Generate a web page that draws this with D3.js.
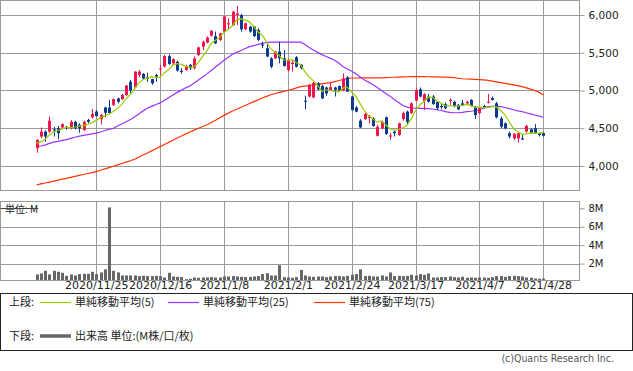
<!DOCTYPE html>
<html>
<head>
<meta charset="utf-8">
<script src="https://cdn.jsdelivr.net/npm/d3@7"></script>
<style>
  body { margin: 0; background: #fff; }
  svg { display: block; font-family: "DejaVu Sans", sans-serif; }
  .jp { font-family: "Noto Sans CJK JP", sans-serif; }
</style>
</head>
<body>
<div id="chart"></div>
<script>
// daily prices (yen), 2020/11/4 .. 2021/4/28
const opens = [4235,4390,4455,4455,4485,4500,4510,4520,4500,4585,4545,4475,4610,4645,4720,4620,4775,4775,4810,4895,
  4885,4940,5115,5040,5205,5220,5175,5150,5205,5280,5315,5455,5360,5380,5260,5270,5340,5295,5470,5580,
  5635,5725,5720,5670,5780,5875,5865,6000,6000,5810,5845,5845,5800,5610,5560,5425,5425,5515,5425,5270,
  5350,5440,5340,4865,4920,4910,5095,5060,5040,5000,5040,5060,5000,5175,4920,4775,4600,4620,4635,4630,
  4400,4500,4645,4390,4455,4410,4620,4720,4700,4865,5015,4860,4920,4920,4850,4795,4820,4860,4850,4810,
  4830,4830,4875,4785,4700,4795,4835,4900,4830,4630,4565,4435,4365,4365,4365,4455,4485,4500,4435,4435];
const highs = [4355,4510,4470,4655,4520,4530,4565,4530,4610,4600,4565,4600,4625,4755,4740,4690,4785,4875,4895,4905,
  4955,5075,5140,5255,5270,5230,5235,5155,5220,5340,5470,5480,5425,5395,5295,5340,5350,5450,5580,5660,
  5715,5800,5780,5765,5985,5955,6055,6120,6015,5900,5855,5855,5825,5645,5635,5440,5525,5645,5535,5415,
  5405,5455,5350,4930,5085,5115,5110,5070,5050,5115,5050,5065,5225,5190,4930,4795,4620,4705,4675,4645,
  4545,4600,4655,4440,4470,4575,4720,4735,4840,5030,5040,4965,4955,4940,4860,4820,4840,4895,4865,4820,
  4875,4865,4885,4795,4775,4810,4955,4920,4850,4655,4575,4455,4435,4440,4410,4545,4500,4555,4440,4445];
const lows = [4175,4370,4320,4440,4390,4355,4500,4480,4485,4485,4440,4465,4565,4630,4655,4550,4645,4690,4795,4830,
  4875,4930,4960,5030,5175,5150,5115,5075,5115,5205,5305,5340,5350,5250,5220,5265,5270,5280,5455,5535,
  5625,5715,5615,5655,5765,5810,5855,5865,5780,5800,5765,5710,5655,5560,5440,5295,5415,5360,5315,5250,
  5250,5305,5280,4750,4910,4895,5005,4885,4930,4990,4920,4990,4990,4980,4735,4710,4500,4610,4565,4520,
  4390,4485,4410,4345,4390,4400,4600,4555,4690,4855,4910,4740,4840,4810,4740,4750,4750,4810,4775,4740,
  4795,4820,4785,4620,4690,4765,4830,4865,4630,4500,4485,4365,4345,4310,4345,4440,4435,4425,4390,4390];
const closes = [4345,4455,4390,4600,4470,4435,4555,4505,4585,4500,4500,4585,4585,4690,4660,4675,4705,4700,4885,4850,
  4940,5065,5005,5250,5250,5160,5155,5095,5185,5290,5455,5350,5415,5265,5245,5325,5295,5425,5570,5645,
  5700,5790,5625,5755,5980,5890,6045,6020,5810,5890,5780,5720,5670,5595,5450,5315,5515,5425,5325,5405,
  5370,5315,5295,4850,5075,5100,5015,4895,4960,5045,5010,5000,5160,4985,4740,4720,4510,4690,4655,4530,
  4520,4585,4425,4405,4435,4565,4700,4585,4830,5005,4920,4950,4850,4820,4765,4780,4765,4875,4795,4750,
  4810,4850,4795,4675,4765,4780,4850,4875,4645,4520,4500,4390,4425,4435,4350,4530,4440,4435,4410,4400];
// closes of the 4 sessions before the first one (for the 5-day average)
const preCloses = [4345, 4235, 4310, 4265];

// volume, millions of shares
const volumes = [0.82,0.93,1.22,0.82,1.22,1.11,1.0,0.67,0.82,0.71,0.86,0.89,0.89,1.11,0.86,1.04,1.37,8.1,1.22,1.04,
  0.71,0.71,0.71,0.71,0.64,0.67,0.64,0.64,0.67,0.64,0.49,1.0,0.6,0.56,0.53,0.31,0.35,0.49,0.46,0.49,
  0.49,0.53,0.49,0.49,0.6,0.6,0.64,0.6,0.56,0.53,0.56,0.6,0.64,0.86,0.96,0.71,0.71,1.82,0.53,0.49,
  0.46,0.53,1.3,0.71,0.6,0.56,0.6,0.6,0.53,0.6,0.64,0.64,0.6,0.67,0.78,0.86,1.37,0.64,0.67,0.6,
  0.6,0.71,0.6,1.04,0.64,0.67,0.64,0.67,0.78,0.71,0.86,0.78,0.93,0.49,0.49,0.53,0.53,0.6,0.53,0.49,
  0.56,0.46,0.49,0.46,0.49,0.49,0.46,0.53,0.64,0.64,0.56,0.64,0.67,0.64,0.6,0.49,0.46,0.38,0.35,0.38];

// 25 / 75 day averages as drawn
const ma25 = [4255,4265,4280,4300,4315,4325,4340,4350,4365,4380,4395,4405,4415,4425,4435,4450,4470,4485,4500,4530,
  4555,4585,4615,4650,4690,4730,4765,4790,4815,4835,4870,4905,4940,4975,5005,5035,5060,5100,5140,5180,
  5220,5265,5310,5355,5400,5440,5480,5505,5530,5555,5580,5595,5610,5625,5635,5640,5640,5640,5640,5640,
  5640,5640,5640,5610,5570,5535,5505,5475,5450,5425,5400,5360,5315,5285,5255,5220,5180,5140,5110,5075,
  5040,5000,4960,4925,4880,4840,4800,4780,4770,4765,4762,4762,4760,4755,4745,4735,4720,4710,4705,4705,
  4710,4720,4725,4735,4745,4765,4785,4790,4790,4785,4775,4760,4745,4730,4720,4705,4690,4675,4660,4645];
const ma75 = [3750,3762,3775,3787,3800,3812,3825,3837,3850,3862,3875,3887,3900,3912,3925,3943,3961,3979,3997,4015,
  4033,4051,4069,4090,4118,4145,4173,4200,4228,4256,4285,4313,4342,4370,4398,4425,4450,4475,4500,4523,
  4547,4575,4605,4638,4670,4700,4728,4752,4777,4802,4828,4852,4876,4900,4922,4943,4960,4975,4988,5000,
  5015,5035,5051,5058,5065,5073,5080,5088,5097,5104,5118,5132,5145,5158,5165,5165,5166,5166,5167,5167,
  5168,5168,5170,5172,5175,5178,5180,5182,5183,5183,5183,5183,5182,5181,5180,5178,5176,5174,5170,5162,
  5155,5152,5150,5147,5144,5141,5135,5125,5115,5105,5095,5085,5075,5064,5050,5035,5017,5000,4975,4940];

const tickIdx = [14, 29, 44, 59, 74, 89, 104, 119];
const tickLabels = ["2020/11/25", "2020/12/16", "2021/1/8", "2021/2/1", "2021/2/24", "2021/3/17", "2021/4/7", "2021/4/28"];
const priceTicks = [4000, 4500, 5000, 5500, 6000];
const volTicks = [2, 4, 6, 8];

const legendItems = [
  { label: "単純移動平均(5)", color: "#99cc00" },
  { label: "単純移動平均(25)", color: "#9933ff" },
  { label: "単純移動平均(75)", color: "#ff3300" }
];

const upColor = "#f0164b", downColor = "#0d3893", gridColor = "#9a9a9a";

const width = 633, height = 371;
const left = 0.5, right = 579.5;
const top1 = 0.5, bot1 = 190.5;     // candle panel
const top2 = 201.5, bot2 = 280.5;   // volume panel

const svg = d3.select("#chart").append("svg")
  .attr("width", width)
  .attr("height", height);

svg.append("rect").attr("width", width).attr("height", height).attr("fill", "#fff");

const n = closes.length;
const x = d3.scaleLinear().domain([-8.5, 127.5]).range([left, right]);
const y = d3.scaleLinear().domain([3682, 6185]).range([190, 1]);
const yv = d3.scaleLinear().domain([0, 8.8]).range([282, 201]);
const px = v => Math.round(v) + 0.5;

// 5-day simple average from closes
const allCloses = preCloses.concat(closes);
const ma5 = closes.map((c, i) => d3.mean(allCloses.slice(i, i + 5)));

// grid
const grid = svg.append("g").attr("stroke", gridColor).attr("stroke-width", 1);
grid.selectAll(".hg").data(priceTicks).join("line")
  .attr("x1", left).attr("x2", right)
  .attr("y1", d => px(y(d))).attr("y2", d => px(y(d)));
grid.selectAll(".hv").data(volTicks.filter(d => d < 8)).join("line")
  .attr("x1", left).attr("x2", right)
  .attr("y1", d => px(yv(d))).attr("y2", d => px(yv(d)));
grid.selectAll(".v1").data(tickIdx).join("line")
  .attr("x1", d => px(x(d))).attr("x2", d => px(x(d)))
  .attr("y1", top1).attr("y2", bot1);
grid.selectAll(".v2").data(tickIdx).join("line")
  .attr("x1", d => px(x(d))).attr("x2", d => px(x(d)))
  .attr("y1", top2).attr("y2", bot2);

// moving averages (drawn under the candles)
const line = d3.line().x((d, i) => x(i)).y(d => y(d));
[[ma75, legendItems[2].color], [ma25, legendItems[1].color]].forEach(([data, color]) => {
  svg.append("path").datum(data)
    .attr("d", line).attr("fill", "none")
    .attr("stroke", color).attr("stroke-width", 1.2);
});

// candles
const idx = d3.range(n);
const candles = svg.append("g");
candles.selectAll("line").data(idx).join("line")
  .attr("x1", i => px(x(i))).attr("x2", i => px(x(i)))
  .attr("y1", i => y(highs[i])).attr("y2", i => y(lows[i]))
  .attr("stroke", i => closes[i] >= opens[i] ? upColor : downColor);
candles.selectAll("rect").data(idx).join("rect")
  .attr("x", i => Math.round(x(i)) - 1)
  .attr("width", 3)
  .attr("y", i => y(Math.max(opens[i], closes[i])))
  .attr("height", i => Math.max(1, Math.abs(y(opens[i]) - y(closes[i]))))
  .attr("fill", i => closes[i] >= opens[i] ? upColor : downColor);

svg.append("path").datum(ma5)
  .attr("d", line).attr("fill", "none")
  .attr("stroke", legendItems[0].color).attr("stroke-width", 1.2);

// volume bars
svg.append("clipPath").attr("id", "volclip")
  .append("rect").attr("x", left).attr("y", top2).attr("width", right - left).attr("height", bot2 - top2);
svg.append("g").attr("clip-path", "url(#volclip)")
  .selectAll("rect").data(volumes).join("rect")
  .attr("x", (d, i) => Math.round(x(i)) - 1)
  .attr("width", 3)
  .attr("y", d => yv(d))
  .attr("height", d => yv(0) - yv(d))
  .attr("fill", "#666");

// panel borders
[[top1, bot1], [top2, bot2]].forEach(([t, b]) => {
  svg.append("rect").attr("x", left).attr("y", t)
    .attr("width", right - left).attr("height", b - t)
    .attr("fill", "none").attr("stroke", gridColor);
});

// axes
const yAxis = svg.append("g")
  .attr("transform", `translate(${right},0)`)
  .call(d3.axisRight(y).tickValues(priceTicks).tickSize(5).tickPadding(4).tickFormat(d3.format(",")));
yAxis.select(".domain").remove();
yAxis.selectAll("line").attr("stroke", gridColor);
yAxis.selectAll("text").attr("font-size", 10.5).attr("fill", "#222").attr("font-family", "DejaVu Sans");

const vAxis = svg.append("g")
  .attr("transform", `translate(${right},0)`)
  .call(d3.axisRight(yv).tickValues(volTicks).tickSize(5).tickPadding(4).tickFormat(d => d + "M"));
vAxis.select(".domain").remove();
vAxis.selectAll("line").attr("stroke", gridColor);
vAxis.selectAll("text").attr("font-size", 10).attr("fill", "#222").attr("font-family", "DejaVu Sans");

const xAxis = svg.append("g")
  .attr("transform", `translate(0,${bot2})`)
  .call(d3.axisBottom(x).tickValues(tickIdx).tickSize(0).tickPadding(1)
    .tickFormat((d, i) => tickLabels[i]));
xAxis.select(".domain").remove();
xAxis.selectAll("text").attr("font-size", 11).attr("fill", "#222").attr("font-family", "DejaVu Sans");

// unit label in volume panel (a line runs through it, as in the original)
const unit = svg.append("text").attr("class", "jp")
  .attr("x", 5).attr("y", px(yv(8)) + 4)
  .attr("font-size", 10).attr("fill", "#222").text("単位: M");
const uw = unit.node().getComputedTextLength();
svg.append("line").attr("x1", left).attr("x2", 5 + uw)
  .attr("y1", px(yv(8))).attr("y2", px(yv(8))).attr("stroke", "#444");

// legend
const lg = svg.append("g").attr("class", "jp").attr("font-size", 11).attr("fill", "#222");
lg.append("rect").attr("x", 0.5).attr("y", 293.5).attr("width", 632).attr("height", 57)
  .attr("fill", "#fff").attr("stroke", "#222");
lg.append("text").attr("x", 9).attr("y", 306).text("上段:");
const itemX = [40, 168, 314];
legendItems.forEach((d, i) => {
  lg.append("line").attr("x1", itemX[i]).attr("x2", itemX[i] + 31)
    .attr("y1", 302.5).attr("y2", 302.5).attr("stroke", d.color).attr("stroke-width", 1.2);
  lg.append("text").attr("x", itemX[i] + 35).attr("y", 306).text(d.label);
});
lg.append("text").attr("x", 9).attr("y", 340).text("下段:");
lg.append("line").attr("x1", 40).attr("x2", 71).attr("y1", 336).attr("y2", 336)
  .attr("stroke", "#666").attr("stroke-width", 3.5);
lg.append("text").attr("x", 75).attr("y", 340).text("出来高 単位:(M株/口/枚)");

svg.append("text").attr("x", 614).attr("y", 362).attr("text-anchor", "end")
  .attr("font-size", 10.5).attr("fill", "#555").attr("font-family", "DejaVu Sans Condensed, sans-serif")
  .text("(c)Quants Research Inc.");
</script>
</body>
</html>
